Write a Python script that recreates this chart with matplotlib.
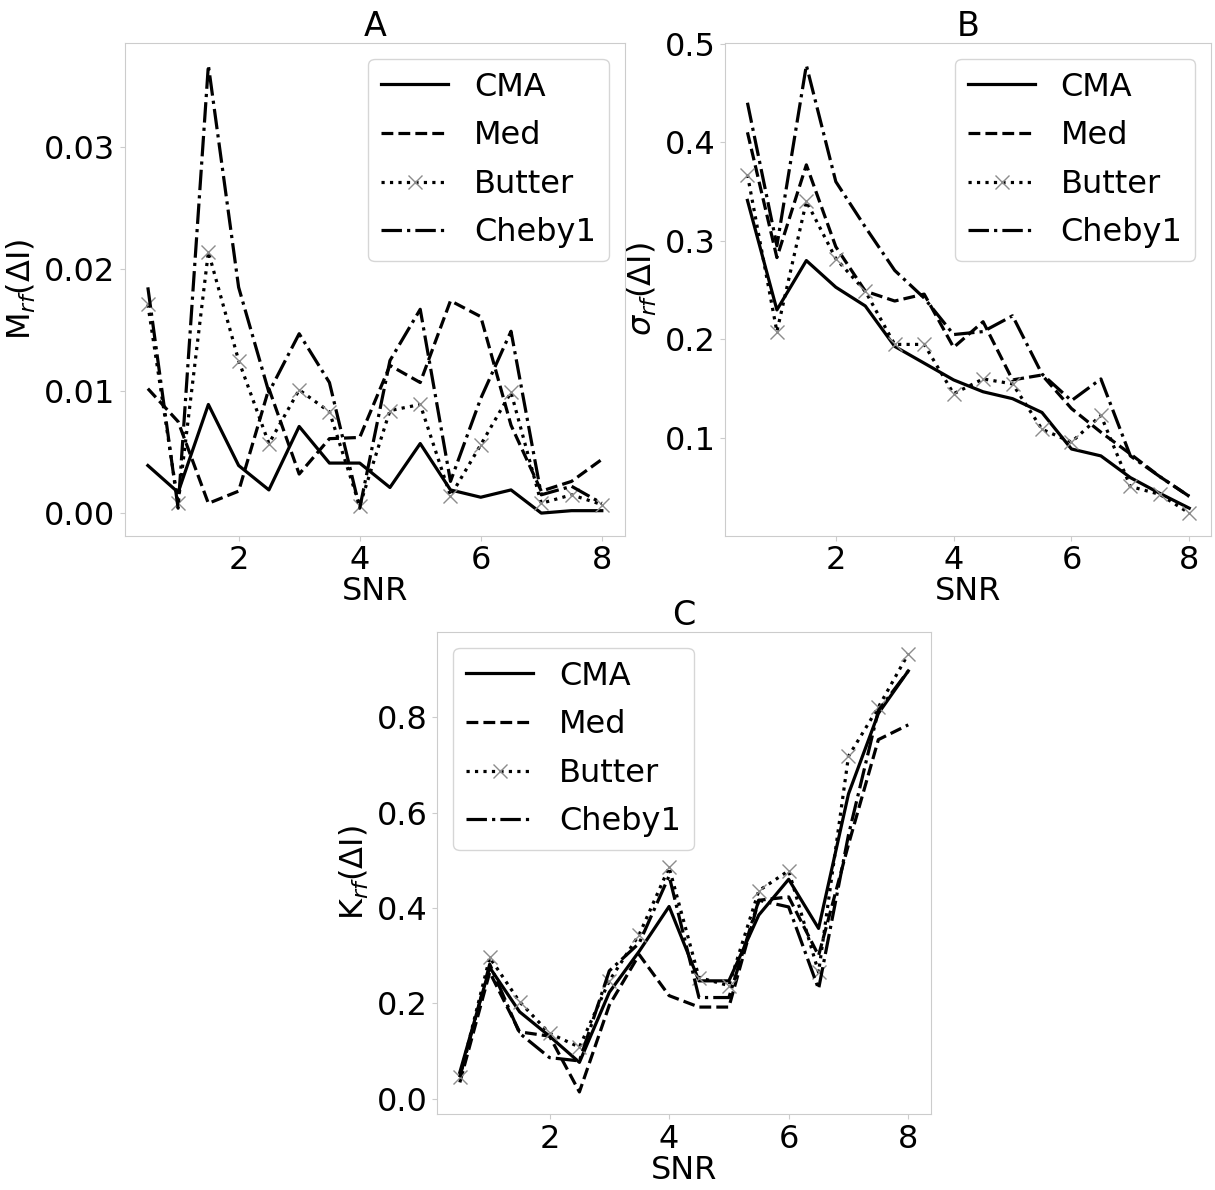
import matplotlib
matplotlib.use('Agg')
import matplotlib.pyplot as plt

# SNR grid shared by all three panels
snr = [0.5, 1.0, 1.5, 2.0, 2.5, 3.0, 3.5, 4.0, 4.5, 5.0, 5.5, 6.0, 6.5, 7.0, 7.5, 8.0]

# A: mean of residual
mean_cma = [0.0039, 0.0017, 0.0089, 0.0039, 0.0019, 0.0071, 0.0041, 0.0041,
            0.0021, 0.0057, 0.0019, 0.0013, 0.0019, 0.0000, 0.0002, 0.0002]
mean_med = [0.0102, 0.0075, 0.0008, 0.0018, 0.0102, 0.0032, 0.0061, 0.0062,
            0.0121, 0.0107, 0.0174, 0.0161, 0.0072, 0.0018, 0.0026, 0.0044]
mean_butter = [0.0171, 0.0008, 0.0214, 0.0125, 0.0057, 0.0101, 0.0083, 0.0006,
               0.0084, 0.0089, 0.0014, 0.0056, 0.0099, 0.0008, 0.0015, 0.0007]
mean_cheby = [0.0185, 0.0004, 0.0367, 0.0185, 0.0099, 0.0147, 0.0107, 0.0004,
              0.0125, 0.0167, 0.0026, 0.0094, 0.0149, 0.0015, 0.0022, 0.0008]

# B: standard deviation of residual
std_cma = [0.341, 0.230, 0.280, 0.253, 0.234, 0.193, 0.176, 0.159,
           0.147, 0.140, 0.126, 0.089, 0.082, 0.060, 0.044, 0.029]
std_med = [0.410, 0.283, 0.377, 0.294, 0.249, 0.239, 0.246, 0.192,
           0.218, 0.159, 0.164, 0.130, 0.106, 0.084, 0.061, 0.041]
std_butter = [0.367, 0.208, 0.340, 0.282, 0.249, 0.195, 0.195, 0.145,
              0.160, 0.155, 0.109, 0.096, 0.123, 0.051, 0.043, 0.024]
std_cheby = [0.440, 0.295, 0.478, 0.360, 0.314, 0.270, 0.242, 0.205,
             0.208, 0.224, 0.165, 0.138, 0.160, 0.082, 0.061, 0.041]

# C: kurtosis of residual
kur_cma = [0.055, 0.275, 0.182, 0.131, 0.076, 0.223, 0.309, 0.403,
           0.247, 0.247, 0.385, 0.460, 0.357, 0.639, 0.808, 0.897]
kur_med = [0.034, 0.265, 0.140, 0.131, 0.014, 0.196, 0.302, 0.216,
           0.192, 0.192, 0.416, 0.423, 0.300, 0.533, 0.753, 0.784]
kur_butter = [0.045, 0.296, 0.203, 0.137, 0.108, 0.247, 0.344, 0.485,
              0.254, 0.237, 0.436, 0.478, 0.265, 0.718, 0.821, 0.933]
kur_cheby = [0.045, 0.282, 0.137, 0.086, 0.079, 0.268, 0.326, 0.467,
             0.212, 0.212, 0.416, 0.402, 0.230, 0.553, 0.814, 0.897]

labels = ['CMA', 'Med', 'Butter', 'Cheby1']

plt.rcParams['font.size'] = 23
plt.rcParams['axes.edgecolor'] = '0.8'
plt.rcParams['xtick.color'] = '0.8'
plt.rcParams['ytick.color'] = '0.8'
plt.rcParams['xtick.labelcolor'] = 'black'
plt.rcParams['ytick.labelcolor'] = 'black'


def draw(ax, series, title, ylabel, legend_loc):
    lw = 2.3
    ax.plot(snr, series[0], '-', color='black', lw=lw, label=labels[0])
    ax.plot(snr, series[1], '--', color='black', lw=lw, label=labels[1])
    ax.plot(snr, series[2], ':', color='black', lw=lw, marker='x',
            ms=10, mec='0.55', mew=1.0, label=labels[2])
    ax.plot(snr, series[3], '-.', color='black', lw=lw, label=labels[3])
    ax.set_title(title, fontsize=24, pad=4)
    ax.set_xlabel('SNR', labelpad=0)
    ax.set_ylabel(ylabel, labelpad=4)
    ax.set_xticks([2, 4, 6, 8])
    ax.legend(loc=legend_loc, handlelength=2.1, labelspacing=0.55)


fig = plt.figure(figsize=(12.15, 11.9), dpi=100)

ax1 = fig.add_axes([0.103, 0.550, 0.411, 0.414])
draw(ax1, [mean_cma, mean_med, mean_butter, mean_cheby], 'A',
     'M$_{rf}$(ΔI)', 'upper right')
ax1.set_yticks([0.0, 0.01, 0.02, 0.03])
ax1.set_yticklabels(['0.00', '0.01', '0.02', '0.03'])

ax2 = fig.add_axes([0.597, 0.550, 0.400, 0.414])
draw(ax2, [std_cma, std_med, std_butter, std_cheby], 'B',
     r'$\sigma_{rf}$(ΔI)', 'upper right')
ax2.set_yticks([0.1, 0.2, 0.3, 0.4, 0.5])

ax3 = fig.add_axes([0.360, 0.064, 0.406, 0.405])
draw(ax3, [kur_cma, kur_med, kur_butter, kur_cheby], 'C',
     'K$_{rf}$(ΔI)', 'upper left')
ax3.set_yticks([0.0, 0.2, 0.4, 0.6, 0.8])

fig.savefig('out.png', dpi=100)
